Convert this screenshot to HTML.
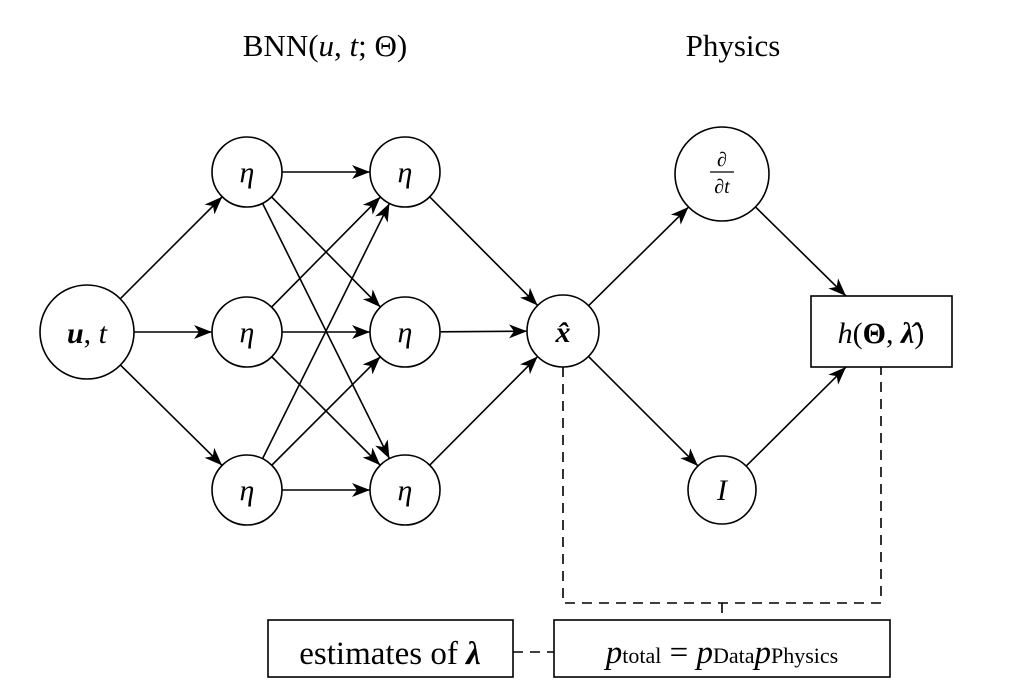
<!DOCTYPE html>
<html><head><meta charset="utf-8"><style>
html,body{margin:0;padding:0;background:#fff;}
svg{display:block;font-family:"Liberation Serif",serif;}
</style></head><body>
<svg id="s" width="1018" height="699" viewBox="0 0 1018 699" xmlns="http://www.w3.org/2000/svg">
<defs>
<marker id="a" markerWidth="20" markerHeight="14" refX="18" refY="7" orient="auto" markerUnits="userSpaceOnUse">
<path d="M0,0 L18,7 L0,14 L5,7 Z" fill="#000"/>
</marker>
</defs>
<text x="325" y="56" font-size="31" text-anchor="middle">BNN(<tspan font-style="italic">u</tspan>, <tspan font-style="italic">t</tspan>; Θ)</text>
<text x="733" y="56" font-size="31" text-anchor="middle">Physics</text>
<g id="edges" stroke="#000" stroke-width="1.6" fill="none"></g>
<g stroke="#000" stroke-width="1.6" fill="#fff">
<circle cx="87" cy="332" r="47"/>
<circle cx="247" cy="172" r="35"/><circle cx="247" cy="332" r="35"/><circle cx="247" cy="490" r="35"/>
<circle cx="405" cy="172" r="35"/><circle cx="405" cy="332" r="35"/><circle cx="405" cy="490" r="35"/>
<circle cx="563" cy="331" r="36"/>
<circle cx="722" cy="174" r="47"/>
<circle cx="722" cy="490" r="34"/>
<rect x="811" y="296" width="141" height="71"/>
<rect x="268" y="620" width="245" height="57"/>
<rect x="554" y="620" width="336" height="57"/>
</g>
<g stroke="#000" stroke-width="1.6" fill="none" stroke-dasharray="10,7">
<path d="M563,367 V603 H881 V367"/>
<path d="M722,603 V620"/>
<path d="M513,652 H554"/>
</g>
<g font-size="30" text-anchor="middle" font-style="italic">
<text x="87" y="343"><tspan font-weight="bold">u</tspan><tspan font-style="normal">,</tspan> t</text>
<text x="247" y="182">η</text><text x="247" y="342">η</text><text x="247" y="500">η</text>
<text x="405" y="182">η</text><text x="405" y="342">η</text><text x="405" y="500">η</text>
<text x="563" y="342" font-weight="bold">x̂</text>
<text x="722" y="500">I</text>
<text x="881" y="343">h<tspan font-style="normal">(</tspan><tspan font-style="normal" font-weight="bold">Θ</tspan><tspan font-style="normal">,</tspan> <tspan font-weight="bold">λ̂</tspan><tspan font-style="normal">)</tspan></text>
</g>
<g font-size="20" font-style="italic" text-anchor="middle">
<text x="722" y="166">∂</text>
<text x="722" y="193">∂t</text>
</g>
<line x1="710" y1="172" x2="734" y2="172" stroke="#000" stroke-width="1.2"/>
<text x="390" y="664" font-size="33" text-anchor="middle">estimates of <tspan font-style="italic" font-weight="bold">λ</tspan></text>
<text x="722" y="663" font-size="33" text-anchor="middle"><tspan font-style="italic">p</tspan><tspan font-size="22">total</tspan> = <tspan font-style="italic">p</tspan><tspan font-size="22">Data</tspan><tspan font-style="italic">p</tspan><tspan font-size="22">Physics</tspan></text>
</svg>
<script>
var g=document.getElementById('edges');
function E(x1,y1,r1,x2,y2,r2){var dx=x2-x1,dy=y2-y1,d=Math.sqrt(dx*dx+dy*dy),ux=dx/d,uy=dy/d;
var l=document.createElementNS('http://www.w3.org/2000/svg','line');
l.setAttribute('x1',x1+ux*r1);l.setAttribute('y1',y1+uy*r1);l.setAttribute('x2',x2-ux*r2);l.setAttribute('y2',y2-uy*r2);
l.setAttribute('marker-end','url(#a)');g.appendChild(l);}
var L=[172,332,490];
L.forEach(function(y){E(87,332,47,247,y,35);E(405,y,35,563,331,36);});
L.forEach(function(a){L.forEach(function(b){E(247,a,35,405,b,35);});});
E(563,331,36,722,174,47);E(563,331,36,722,490,34);
E(722,174,47,846,296,0);E(722,490,34,846,367,0);
</script>
</body></html>
